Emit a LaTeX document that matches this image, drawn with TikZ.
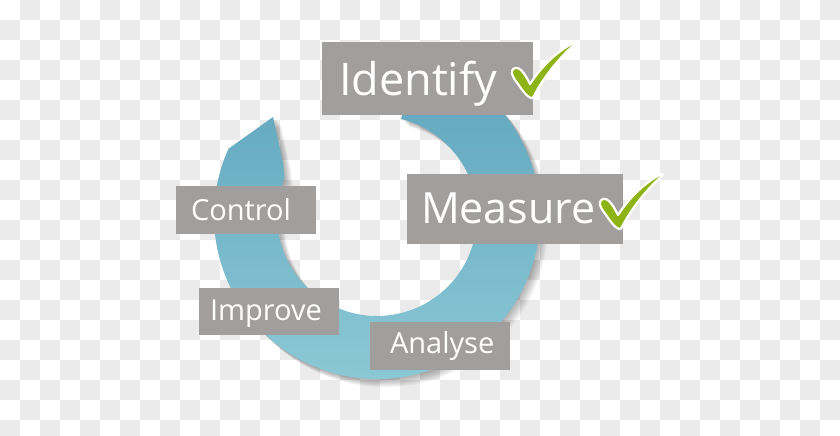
\documentclass[tikz,border=0pt]{standalone}
\usepackage{fontspec}
\setmainfont{Open Sans}
\usetikzlibrary{calc}
\definecolor{checkgray}{HTML}{EBEBEB}
\definecolor{boxgray}{HTML}{A09F9D}
\definecolor{ringtop}{RGB}{94,164,189}
\definecolor{ringbottom}{RGB}{141,202,214}
\definecolor{chkgreen}{HTML}{8DB315}
\tikzset{
  ringpath/.style={insert path={(76:163) arc[start angle=76,end angle=-204.4,radius=163]
     -- (-104,99) -- (-94,53) -- (-202.4:100) arc[start angle=-202.4,end angle=76,radius=100] -- cycle}},
  lbl/.style={fill=boxgray, text=white, inner ysep=0pt, text depth=0pt, align=left, anchor=center},
  biglbl/.style={lbl, font=\fontsize{43}{43}\selectfont},
  smalllbl/.style={lbl, font=\fontsize{29}{29}\selectfont},
  chk/.pic={\filldraw[fill=chkgreen, draw=white, line width=2.2pt, line join=round]
     (0,0) .. controls (-4,1) and (-9,8) .. (-13,14)
     .. controls (-16,18) and (-20,23) .. (-19,27)
     .. controls (-18,31) and (-13,31) .. (-10,28)
     .. controls (-6,24) and (-3,18) .. (-1,14)
     .. controls (8,28) and (22,44) .. (42,55)
     .. controls (44,55.5) and (44.5,54) .. (43,53)
     .. controls (28,40) and (12,20) .. (3,2)
     .. controls (2,0) and (1,-0.5) .. (0,0) -- cycle;}
}
\begin{document}
\begin{tikzpicture}[x=1pt,y=1pt]
\path[use as bounding box] (0,0) rectangle (840,-436);
% checkerboard background
\fill[white] (0,0) rectangle (840,-436);
\foreach \j in {0,2,...,20} \foreach \i in {1,3,...,41} \fill[checkgray] (\i*20,-\j*20) rectangle ++(20,-20);
\foreach \j in {1,3,...,21} \foreach \i in {0,2,...,40} \fill[checkgray] (\i*20,-\j*20) rectangle ++(20,-20);
% ring shadow
\foreach \k in {1,...,9} {
  \begin{scope}[shift={(377+\k*0.9,-216-\k*0.9)}]
    \fill[black, opacity=0.035, ringpath];
  \end{scope}
}
% ring arrow
\begin{scope}[shift={(377,-216)}]
  \shade[top color=ringtop, bottom color=ringbottom, ringpath];
\end{scope}
% labels
\node[biglbl, font=\fontsize{45}{45}\selectfont, minimum width=211pt, minimum height=73pt, inner xsep=17pt, text width=177pt, text height=33pt] (identify) at (427.5,-78.5) {Identify};
\node[biglbl, minimum width=216pt, minimum height=70pt, inner xsep=14pt, text width=188pt, text height=29pt] (measure) at (515,-209) {Measure};
\node[smalllbl, minimum width=140pt, minimum height=48pt, inner xsep=15pt, text width=110pt, text height=20pt] (control) at (246,-210) {Control};
\node[smalllbl, minimum width=140pt, minimum height=47pt, inner xsep=11pt, text width=118pt, text height=17pt] (improve) at (269,-311.5) {Improve};
\node[smalllbl, minimum width=140pt, minimum height=48pt, inner xsep=20pt, text width=100pt, text height=15pt] (analyse) at (440,-346) {Analyse};
% check marks
\pic at (531,-98) {chk};
\pic at (619,-229) {chk};
\end{tikzpicture}
\end{document}
